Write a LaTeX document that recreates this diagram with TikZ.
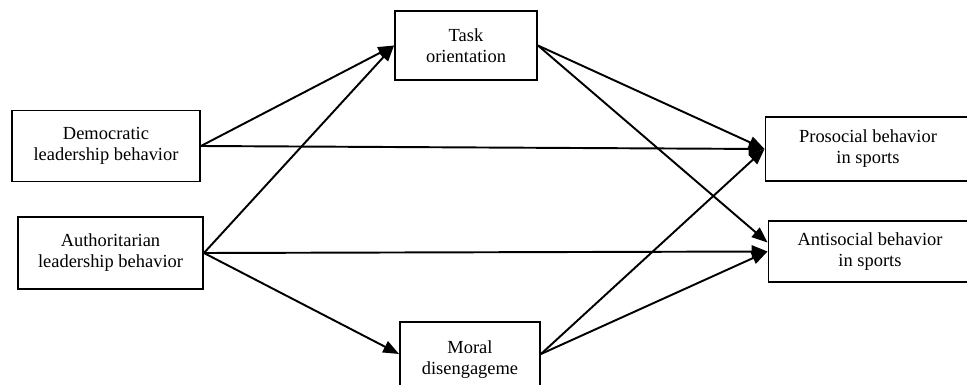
\documentclass[tikz,border=0pt]{standalone}
\usepackage{fontspec}
\setmainfont{Liberation Serif}
\usetikzlibrary{arrows.meta}

\tikzset{
    varbox/.style={draw, line width=1.1pt, align=center, inner sep=0pt,
        font=\fontsize{10.5pt}{12pt}\selectfont},
    path/.style={line width=1.1pt, -{Triangle[length=9pt, width=7pt]}}
}

\begin{document}
\begin{tikzpicture}[x=0.02cm, y=-0.02cm]
    \useasboundingbox (0, 0) rectangle (967, 385);

    % Predictors (left)
    \node[varbox, minimum width=3.76cm, minimum height=1.42cm] (demo) at (106, 146) {Democratic\\leadership behavior};
    \node[varbox, minimum width=3.70cm, minimum height=1.44cm] (auth) at (110.5, 253) {Authoritarian\\leadership behavior};

    % Mediators (middle), the lower box runs past the bottom edge
    \node[varbox, minimum width=2.84cm, minimum height=1.38cm] (task) at (466, 45.5) {Task\\orientation};
    \node[varbox, minimum width=2.80cm, minimum height=1.52cm] (moral) at (470, 360) {Moral\\disengageme};

    % Outcomes (right)
    \node[varbox, minimum width=4.10cm, minimum height=1.28cm] (pro) at (868, 149) {Prosocial behavior\\in sports};
    \node[varbox, minimum width=4.06cm, minimum height=1.22cm] (anti) at (870, 251.5) {Antisocial behavior\\in sports};

    % Paths
    \draw[path] (demo.east) -- (task.west);
    \draw[path] (demo.east) -- (pro.west);
    \draw[path] (auth.east) -- (task.west);
    \draw[path] (auth.east) -- (anti.west);
    \draw[path] (auth.east) -- ([yshift=0.12cm]moral.west);
    \draw[path] (task.east) -- (pro.west);
    \draw[path] (task.east) -- ([yshift=0.18cm]anti.west);
    \draw[path] ([yshift=0.12cm]moral.east) -- (pro.west);
    \draw[path] ([yshift=0.12cm]moral.east) -- (anti.west);
\end{tikzpicture}
\end{document}
